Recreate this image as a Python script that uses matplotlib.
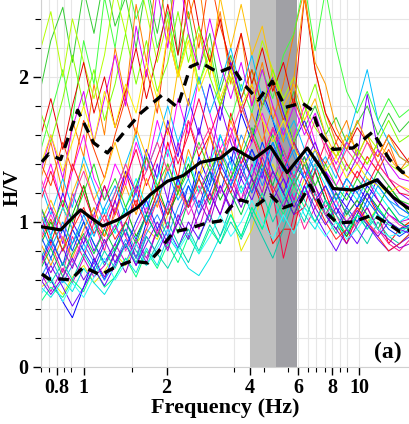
# -*- coding: utf-8 -*-
"""
Cociente espectral H/V: curvas individuales, media y media +/- desviación.
Guarda out.png.
"""

import matplotlib
matplotlib.use("Agg")
import matplotlib.pyplot as plt
from matplotlib.ticker import FixedLocator, NullFormatter, MultipleLocator

# Frecuencias comunes (Hz)
frecuencias = [0.70, 0.76, 0.84, 0.91, 1.00, 1.09, 1.19, 1.30, 1.42, 1.55, 1.69, 1.85,
               2.02, 2.20, 2.40, 2.62, 2.87, 3.13, 3.42, 3.73, 4.08, 4.45, 4.86, 5.31,
               5.80, 6.33, 6.92, 7.55, 8.25, 9.01, 9.84, 10.7, 11.7, 12.8, 14.0, 15.3]

# Curvas individuales (H/V)
curvas = [
    [1.93, 2.25, 2.48, 2.10, 2.60, 2.30, 2.70, 2.35, 2.55, 2.20, 2.65, 2.30, 2.70, 2.15, 2.45, 2.05, 2.30, 1.90,
     2.15, 1.85, 2.05, 1.80, 1.95, 1.70, 1.90, 1.65, 1.80, 1.60, 1.72, 1.55, 1.68, 1.80, 1.60, 1.75, 1.62, 1.70],
    [1.30, 1.55, 1.20, 1.70, 1.45, 1.95, 1.60, 2.20, 1.85, 2.50, 2.10, 2.75, 2.30, 2.80, 2.40, 2.65, 2.10, 2.45,
     1.95, 2.30, 1.80, 2.10, 1.70, 1.95, 2.30, 2.60, 2.05, 1.75, 1.55, 1.70, 1.45, 1.60, 1.40, 1.55, 1.35, 1.45],
    [0.55, 0.60, 0.50, 0.62, 0.70, 0.58, 0.66, 0.78, 0.70, 0.85, 0.95, 0.88, 1.05, 1.20, 1.10, 1.30, 1.45, 1.25,
     1.10, 0.80, 0.95, 1.20, 1.40, 1.25, 1.10, 1.30, 1.15, 1.05, 0.95, 1.05, 1.15, 1.00, 1.10, 1.00, 0.95, 1.00],
    [1.05, 0.85, 1.10, 0.95, 1.25, 1.00, 0.90, 1.15, 1.35, 1.10, 1.45, 1.20, 1.55, 1.30, 1.70, 1.45, 1.60, 1.35,
     1.75, 1.50, 1.30, 1.10, 0.85, 0.95, 0.95, 1.25, 1.40, 1.20, 1.00, 0.85, 1.05, 1.20, 1.05, 0.85, 0.95, 1.00],
    [0.80, 0.60, 0.45, 0.34, 0.55, 0.75, 0.60, 0.80, 0.95, 0.75, 1.00, 1.20, 0.95, 1.30, 1.10, 1.45, 1.25, 1.60,
     1.40, 1.75, 1.55, 1.90, 1.70, 1.45, 1.30, 1.50, 1.35, 1.15, 1.05, 1.20, 1.10, 1.25, 1.15, 1.05, 1.00, 0.95],
    [1.20, 1.40, 1.10, 1.35, 1.60, 1.30, 1.15, 1.40, 1.25, 1.55, 1.35, 1.70, 1.45, 1.85, 1.60, 2.00, 1.75, 1.50,
     1.65, 1.40, 1.55, 1.75, 1.55, 1.35, 1.60, 1.80, 1.55, 1.35, 1.25, 1.40, 1.30, 1.45, 1.35, 1.25, 1.15, 1.10],
    [0.55, 0.48, 0.60, 0.52, 0.68, 0.58, 0.50, 0.62, 0.75, 0.65, 0.82, 0.70, 0.90, 0.80, 0.68, 0.63, 0.75, 0.90,
     1.05, 0.90, 1.10, 0.95, 1.15, 1.00, 1.20, 1.05, 0.95, 1.10, 1.00, 0.90, 1.05, 0.95, 1.10, 1.00, 0.92, 0.98],
    [0.95, 1.10, 0.85, 1.20, 1.00, 0.80, 0.95, 1.15, 0.90, 1.25, 1.05, 1.40, 1.15, 1.55, 1.30, 1.65, 1.40, 1.80,
     1.55, 1.35, 1.50, 1.30, 1.65, 1.45, 1.25, 1.40, 1.55, 1.35, 1.15, 1.30, 1.45, 1.88, 1.50, 1.30, 1.20, 1.15],
    [1.50, 1.75, 2.05, 1.70, 2.25, 1.95, 2.55, 2.20, 2.70, 2.40, 2.60, 2.20, 2.45, 2.05, 2.30, 1.95, 2.20, 1.85,
     1.70, 1.95, 1.75, 2.05, 1.85, 2.15, 2.30, 2.65, 2.18, 2.60, 2.20, 1.90, 1.75, 1.90, 1.70, 1.85, 1.72, 1.78],
    [0.70, 0.85, 0.65, 0.90, 0.75, 1.00, 0.80, 1.10, 0.90, 0.75, 0.95, 1.15, 0.95, 1.30, 1.10, 1.25, 1.05, 1.35,
     1.60, 1.40, 1.20, 1.45, 1.65, 1.40, 1.15, 0.95, 1.10, 1.25, 1.05, 0.90, 1.00, 1.10, 0.95, 0.85, 0.80, 0.88],
    [0.62, 0.75, 0.58, 0.70, 0.85, 0.72, 0.60, 0.72, 0.88, 0.75, 0.92, 1.05, 0.90, 1.10, 1.25, 1.05, 1.30, 1.50,
     1.35, 1.60, 1.45, 1.25, 1.45, 1.65, 1.45, 1.30, 1.50, 1.30, 1.15, 1.30, 1.20, 1.35, 1.25, 1.15, 1.05, 1.02],
    [1.40, 1.25, 1.55, 1.35, 1.70, 1.50, 1.30, 1.60, 1.85, 1.60, 2.05, 1.75, 2.30, 2.00, 2.55, 2.20, 2.70, 2.35,
     2.10, 1.85, 2.05, 1.80, 1.95, 1.70, 1.85, 1.65, 1.50, 1.40, 1.55, 1.40, 1.30, 1.45, 1.35, 1.50, 1.35, 1.30],
    [0.85, 1.00, 0.80, 1.05, 1.25, 1.00, 0.85, 0.95, 1.10, 0.90, 1.05, 1.25, 1.05, 1.20, 1.40, 1.20, 1.35, 1.15,
     1.30, 1.50, 1.30, 1.15, 1.35, 1.20, 1.05, 1.20, 1.35, 1.15, 1.00, 0.90, 1.05, 1.20, 1.10, 1.25, 1.15, 1.05],
    [1.10, 0.90, 1.20, 1.00, 0.85, 1.05, 1.25, 1.05, 1.35, 1.20, 1.50, 1.30, 1.70, 1.45, 1.85, 1.60, 1.95, 1.70,
     2.10, 1.85, 1.60, 1.80, 2.00, 1.75, 1.55, 1.70, 1.50, 1.35, 1.20, 1.10, 1.25, 1.15, 1.30, 1.20, 1.10, 1.05],
    [2.20, 2.45, 2.00, 2.40, 2.10, 1.85, 2.15, 2.60, 2.30, 2.75, 2.45, 2.10, 2.40, 2.00, 2.30, 1.95, 2.15, 1.80,
     2.00, 1.75, 1.95, 2.25, 2.05, 1.85, 2.00, 1.80, 1.65, 1.55, 1.45, 1.55, 1.45, 1.60, 1.50, 1.40, 1.35, 1.40],
    [0.75, 0.90, 0.70, 0.85, 1.00, 0.85, 0.70, 0.82, 0.95, 0.80, 0.70, 0.85, 1.00, 0.85, 0.72, 0.90, 1.05, 0.90,
     1.10, 1.25, 1.05, 0.90, 0.75, 0.95, 1.15, 1.00, 1.20, 1.05, 0.92, 1.08, 0.95, 0.85, 1.00, 0.90, 0.85, 0.92],
    [1.60, 1.85, 1.50, 1.80, 2.10, 1.75, 2.00, 1.65, 1.90, 2.20, 1.85, 2.15, 2.50, 2.15, 2.75, 2.35, 2.10, 2.40,
     2.05, 2.30, 1.95, 2.20, 1.90, 2.10, 1.80, 2.55, 2.05, 1.75, 1.60, 1.50, 1.65, 1.55, 1.45, 1.60, 1.50, 1.40],
    [0.90, 0.75, 0.95, 0.80, 1.00, 0.85, 0.72, 0.85, 1.00, 0.88, 1.05, 0.90, 1.15, 1.00, 1.25, 1.10, 1.35, 1.20,
     1.45, 1.30, 1.50, 1.35, 1.55, 1.35, 1.55, 1.40, 1.20, 1.05, 0.95, 1.10, 1.00, 1.15, 1.05, 0.95, 0.90, 0.95],
    [0.65, 0.52, 0.68, 0.58, 0.75, 0.62, 0.70, 0.85, 0.72, 0.88, 0.75, 0.95, 0.82, 1.00, 1.15, 0.95, 1.20, 1.05,
     1.30, 1.15, 1.40, 1.20, 1.50, 1.30, 1.15, 1.35, 1.25, 1.10, 1.20, 1.05, 1.15, 1.30, 1.15, 1.05, 1.00, 1.02],
    [1.25, 1.05, 1.30, 1.10, 1.45, 1.25, 1.05, 1.20, 1.40, 1.60, 1.35, 1.55, 1.80, 1.55, 1.75, 2.00, 1.75, 1.95,
     2.20, 1.90, 2.15, 1.85, 1.70, 1.55, 1.70, 1.50, 1.35, 1.45, 1.30, 1.55, 1.80, 2.05, 1.70, 1.55, 1.45, 1.40],
    [0.45, 0.55, 0.48, 0.60, 0.52, 0.68, 0.55, 0.62, 0.75, 0.62, 0.80, 0.68, 0.85, 0.72, 0.90, 0.78, 0.95, 0.85,
     1.05, 0.90, 1.10, 0.95, 1.20, 1.05, 1.25, 1.10, 1.00, 1.15, 1.00, 0.92, 1.05, 0.98, 1.10, 1.00, 0.95, 0.98],
    [1.00, 1.15, 0.95, 1.20, 1.40, 1.15, 1.30, 1.55, 1.30, 1.65, 1.45, 1.85, 1.60, 2.05, 1.80, 2.30, 2.00, 2.55,
     2.20, 2.50, 2.15, 2.35, 2.00, 1.80, 1.95, 1.70, 1.85, 1.60, 1.45, 1.60, 1.50, 1.40, 1.55, 1.45, 1.35, 1.30],
    [0.78, 0.65, 0.82, 0.68, 0.90, 0.75, 0.62, 0.78, 0.65, 0.85, 0.72, 0.95, 0.80, 1.05, 0.90, 1.15, 1.00, 1.25,
     1.10, 1.35, 1.20, 1.45, 1.25, 1.10, 1.30, 1.45, 1.25, 1.05, 0.95, 0.85, 0.98, 1.10, 0.95, 0.88, 0.82, 0.85],
    [1.15, 1.35, 1.10, 1.40, 1.20, 1.00, 1.25, 1.05, 1.30, 1.50, 1.25, 1.45, 1.65, 1.40, 1.60, 1.85, 1.60, 1.80,
     2.05, 1.75, 1.95, 1.70, 1.20, 0.75, 1.05, 1.10, 1.35, 1.55, 1.35, 1.20, 1.35, 1.25, 1.40, 1.30, 1.20, 1.18],
    [1.75, 1.55, 1.85, 2.15, 1.80, 2.05, 1.70, 1.95, 2.30, 1.95, 2.25, 1.90, 2.10, 2.45, 2.10, 2.35, 2.00, 1.80,
     2.05, 1.80, 1.60, 1.80, 2.05, 1.80, 1.55, 1.75, 1.95, 1.70, 1.50, 1.35, 1.50, 1.40, 1.55, 1.70, 1.55, 1.60],
    [0.58, 0.70, 0.55, 0.42, 0.55, 0.68, 0.56, 0.70, 0.85, 0.70, 0.90, 0.78, 0.95, 0.82, 1.00, 0.88, 1.08, 1.25,
     1.08, 1.30, 1.15, 1.35, 1.15, 1.30, 1.10, 1.25, 1.05, 0.92, 0.80, 0.95, 0.85, 0.98, 0.88, 0.80, 0.85, 0.90],
    [0.85, 0.70, 0.90, 0.75, 0.95, 1.10, 0.90, 1.05, 1.25, 1.05, 1.30, 1.10, 1.40, 1.20, 1.50, 1.30, 1.60, 1.40,
     1.70, 1.50, 1.75, 1.55, 1.80, 1.55, 2.00, 2.55, 2.10, 1.95, 1.65, 1.50, 1.70, 1.55, 1.45, 1.60, 1.45, 1.40],
    [1.05, 0.90, 1.10, 0.95, 0.80, 0.95, 1.10, 0.92, 1.10, 1.30, 1.10, 1.30, 1.50, 1.25, 1.45, 1.20, 1.40, 1.60,
     1.40, 1.20, 1.35, 1.55, 1.35, 1.15, 1.35, 1.20, 1.40, 1.25, 1.10, 1.25, 1.15, 1.30, 1.20, 1.10, 1.00, 1.05],
    [0.68, 0.82, 0.62, 0.78, 0.92, 0.78, 0.95, 0.80, 1.00, 0.85, 1.05, 0.90, 1.10, 0.92, 1.15, 1.30, 1.12, 1.35,
     1.20, 1.05, 1.25, 1.40, 1.25, 1.50, 1.30, 1.45, 1.20, 1.05, 1.20, 1.05, 1.15, 1.05, 0.95, 1.10, 1.00, 0.95],
    [1.35, 1.60, 1.30, 1.65, 1.90, 1.55, 1.85, 2.15, 1.80, 2.35, 2.00, 2.60, 2.20, 2.75, 2.30, 2.05, 2.40, 2.10,
     1.85, 2.10, 1.80, 2.05, 1.80, 1.60, 1.80, 1.60, 1.75, 1.55, 1.40, 1.55, 1.45, 1.35, 1.50, 1.40, 1.30, 1.28],
    [0.72, 0.88, 0.70, 0.95, 0.80, 0.68, 0.85, 0.98, 0.82, 1.00, 1.15, 0.95, 1.10, 1.30, 1.10, 1.35, 1.20, 1.40,
     1.25, 1.45, 1.30, 1.55, 1.35, 1.20, 1.40, 1.30, 1.15, 1.25, 1.10, 1.00, 1.10, 1.20, 1.08, 1.00, 0.95, 0.98],
    [0.90, 1.05, 0.88, 0.72, 0.90, 1.05, 0.85, 0.98, 0.80, 0.95, 1.10, 0.92, 1.10, 1.25, 1.05, 1.20, 1.40, 1.20,
     1.35, 1.15, 1.30, 1.50, 1.30, 1.45, 1.25, 1.40, 1.20, 1.05, 1.15, 1.00, 1.10, 1.00, 0.92, 1.05, 0.98, 0.95],
    [0.50, 0.62, 0.45, 0.58, 0.48, 0.62, 0.75, 0.60, 0.72, 0.85, 0.70, 0.82, 0.95, 0.80, 0.92, 0.78, 0.90, 1.05,
     0.90, 1.00, 1.15, 1.00, 0.88, 1.05, 0.92, 1.10, 1.00, 0.90, 1.00, 0.88, 0.95, 1.05, 0.95, 0.90, 0.92, 0.95],
    [0.88, 1.02, 0.80, 0.95, 1.10, 0.92, 1.05, 0.88, 1.00, 1.15, 0.98, 1.20, 1.05, 1.25, 1.10, 1.30, 1.15, 1.35,
     1.20, 1.40, 1.60, 1.40, 1.20, 1.35, 1.55, 1.35, 1.15, 1.00, 0.88, 0.95, 1.10, 1.00, 0.90, 0.80, 0.85, 0.92],
    [1.10, 0.95, 1.15, 1.00, 1.20, 1.40, 1.15, 1.30, 1.10, 1.25, 1.45, 1.25, 1.40, 1.20, 1.35, 1.55, 1.35, 1.50,
     1.30, 1.45, 1.65, 1.45, 1.60, 1.40, 1.25, 1.40, 1.25, 1.40, 1.25, 1.15, 1.30, 1.20, 1.35, 1.25, 1.15, 1.12],
    [0.60, 0.50, 0.62, 0.75, 0.60, 0.72, 0.88, 0.72, 0.85, 0.70, 0.85, 1.00, 0.85, 1.00, 0.88, 1.05, 1.20, 1.05,
     1.25, 1.10, 1.30, 1.15, 1.35, 1.20, 1.05, 1.25, 1.10, 0.98, 1.10, 0.95, 1.08, 0.98, 0.90, 1.00, 0.95, 0.92],
    [1.40, 1.60, 1.35, 1.55, 1.80, 1.55, 1.90, 1.65, 1.95, 1.75, 2.10, 1.85, 2.30, 2.00, 2.25, 1.90, 2.10, 1.85,
     2.05, 1.80, 1.95, 1.70, 1.55, 1.70, 1.50, 1.40, 1.50, 1.35, 1.45, 1.30, 1.40, 1.30, 1.25, 1.20, 1.25, 1.22],
    [0.98, 0.82, 1.00, 0.85, 1.05, 0.90, 1.10, 1.25, 1.05, 1.20, 1.00, 1.15, 1.35, 1.15, 1.30, 1.10, 1.25, 1.45,
     1.25, 1.40, 1.20, 1.35, 1.55, 1.35, 1.50, 1.30, 1.45, 1.30, 1.15, 1.30, 1.20, 1.10, 1.25, 1.15, 1.10, 1.05],
    [1.30, 1.10, 0.95, 1.15, 1.35, 1.15, 1.00, 1.20, 1.40, 1.20, 1.35, 1.55, 1.35, 1.50, 1.70, 1.50, 1.65, 1.45,
     1.60, 1.80, 1.60, 1.45, 1.65, 1.50, 1.30, 1.50, 1.70, 1.50, 1.35, 1.50, 1.40, 1.55, 1.40, 1.30, 1.25, 1.20],
    [0.65, 0.58, 0.72, 0.60, 0.78, 0.65, 0.80, 0.68, 0.85, 0.72, 0.90, 0.78, 0.68, 0.82, 0.95, 0.80, 0.98, 0.85,
     1.00, 0.88, 1.05, 1.20, 1.00, 1.15, 1.30, 1.15, 1.00, 1.15, 1.05, 0.95, 1.05, 0.95, 1.05, 0.98, 0.95, 0.96],
]

colores = ["#33cc33", "#ff8000", "#e6e600", "#ff0000", "#0000ff", "#ff00ff", "#00e5e5", "#8000ff",
           "#40ff40", "#ff1493", "#1e90ff", "#ff4000", "#00b300", "#4000ff", "#b3ff00", "#00ccaa",
           "#e60000", "#0040ff", "#cc00cc", "#00bfff", "#00ff80", "#ffbf00", "#9900cc", "#ff0040",
           "#80ff00", "#6600ff", "#ff9900", "#00ffff", "#00cc44", "#d900ff",
           "#2020ff", "#ff33cc", "#33ffff", "#ff2020", "#22dd22", "#7a00e6", "#ffee00", "#00a0ff",
           "#ff3399", "#00d9b0"]

# Media y media +/- sigma
f_media = [0.705, 0.825, 0.912, 0.975, 1.06, 1.172, 1.328, 1.57, 1.75, 2.01, 2.30, 2.65,
           3.14, 3.49, 4.13, 4.76, 5.48, 6.48, 7.22, 8.05, 9.51, 11.6, 13.3, 14.9, 15.3]
hv_media = [0.966, 0.945, 1.03, 1.083, 1.03, 0.972, 1.014, 1.10, 1.19, 1.28, 1.32, 1.41,
            1.44, 1.51, 1.43, 1.52, 1.34, 1.51, 1.38, 1.23, 1.22, 1.29, 1.17, 1.10, 1.09]

f_sup = [0.705, 0.747, 0.825, 0.951, 1.087, 1.22, 1.396, 1.61, 1.93, 2.19, 2.44, 2.65, 3.08,
         3.47, 3.77, 4.30, 4.84, 5.40, 6.21, 6.76, 7.22, 8.05, 9.51, 11.2, 12.9, 14.4, 15.3]
hv_sup = [1.414, 1.469, 1.43, 1.77, 1.545, 1.476, 1.614, 1.75, 1.876, 1.79, 2.07, 2.10, 2.03,
          2.07, 1.96, 1.84, 1.97, 1.79, 1.82, 1.77, 1.61, 1.50, 1.51, 1.62, 1.43, 1.34, 1.36]

f_inf = [0.705, 0.747, 0.825, 0.897, 1.0, 1.152, 1.285, 1.49, 1.71, 1.85, 2.12, 2.38, 2.81, 3.14,
         3.41, 3.71, 4.27, 4.76, 5.30, 6.11, 6.64, 7.41, 8.32, 9.51, 11.2, 12.6, 14.1, 15.3]
hv_inf = [0.641, 0.607, 0.607, 0.60, 0.69, 0.634, 0.683, 0.731, 0.717, 0.786, 0.931, 0.952, 0.993,
          1.007, 1.103, 1.152, 1.117, 1.186, 1.097, 1.138, 1.255, 1.083, 0.993, 1.0, 1.048, 0.993,
          0.931, 0.945]

# Bandas de frecuencia resaltadas
banda_clara = (4.0, 5.0)
banda_oscura = (5.0, 5.95)

ticks_x = [0.8, 1, 2, 4, 6, 8, 10]
ticks_x_menores = [0.7, 0.75, 0.85, 0.9, 1.5, 3.5, 4.5, 5.5, 6.5, 7, 7.5, 8.5, 9]

FUENTE = "Liberation Serif"

fig = plt.figure(figsize=(4.10, 4.24), dpi=100)
ax = fig.add_axes([41 / 410, 1 - 367 / 424, 369 / 410, 367 / 424])

ax.axvspan(*banda_clara, color="#bfbfbf", lw=0, zorder=1)
ax.axvspan(*banda_oscura, color="#a0a0a5", lw=0, zorder=1)

for hv, c in zip(curvas, colores):
    ax.plot(frecuencias, hv, color=c, lw=0.7, solid_joinstyle="round", zorder=2)

ax.plot(f_media, hv_media, color="black", lw=2.3, zorder=4)
ax.plot(f_sup, hv_sup, color="black", lw=2.4, ls=(0, (3.2, 2.2)), zorder=4)
ax.plot(f_inf, hv_inf, color="black", lw=2.4, ls=(0, (3.2, 2.2)), zorder=4)

ax.set_xscale("log")
ax.set_xlim(0.7, 15.3)
ax.set_ylim(0, 2.53)

ax.xaxis.set_major_locator(FixedLocator(ticks_x))
ax.xaxis.set_minor_locator(FixedLocator(ticks_x_menores))
ax.xaxis.set_minor_formatter(NullFormatter())
ax.set_xticklabels([str(t) for t in ticks_x])
ax.yaxis.set_major_locator(FixedLocator([0, 1, 2]))
ax.yaxis.set_minor_locator(MultipleLocator(0.2))

ax.set_axisbelow(True)
ax.grid(True, which="both", color="#e6e6e6", lw=0.8)

for s in ("top", "right"):
    ax.spines[s].set_visible(False)
for s in ("left", "bottom"):
    ax.spines[s].set_color("#d0d0d0")

ax.tick_params(axis="x", which="major", length=6, width=1, pad=2)
ax.tick_params(axis="x", which="minor", length=3.5, width=0.8)
ax.tick_params(axis="y", which="major", length=6, width=1, pad=3)
ax.tick_params(axis="y", which="minor", length=4, width=0.8)

for lab in ax.get_xticklabels() + ax.get_yticklabels():
    lab.set_fontfamily(FUENTE)
    lab.set_fontweight("bold")
    lab.set_fontsize(14.5)

ax.set_xlabel("Frequency (Hz)", fontfamily=FUENTE, fontweight="bold", fontsize=16, labelpad=0)
ax.set_ylabel("H/V", fontfamily=FUENTE, fontweight="bold", fontsize=15)
ax.yaxis.set_label_coords(-0.05, 0.49)

ax.text(0.94, 0.04, "(a)", transform=ax.transAxes, ha="center", va="center",
        fontfamily=FUENTE, fontweight="bold", fontsize=17, zorder=5)

fig.savefig("out.png", dpi=100)
